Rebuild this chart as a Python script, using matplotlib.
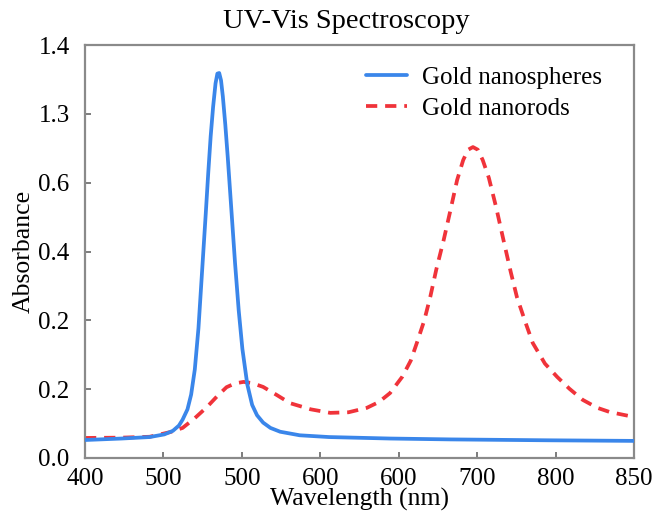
import matplotlib
matplotlib.use("Agg")
import matplotlib.pyplot as plt

# ---- data ----
sphere_wl = [400, 430, 453, 465, 472, 477, 480, 484, 487, 490, 493, 495, 497, 499,
             501, 503, 505, 507, 508.5, 510, 511.5, 513, 515, 517, 519, 521, 523,
             526, 529, 533, 537, 541, 546, 552, 560, 576, 600, 650, 700, 780, 850]
sphere_abs = [0.061, 0.066, 0.071, 0.080, 0.092, 0.110, 0.130, 0.165, 0.215, 0.300,
              0.440, 0.570, 0.700, 0.830, 0.965, 1.090, 1.190, 1.270, 1.303, 1.305,
              1.280, 1.225, 1.130, 1.020, 0.900, 0.780, 0.660, 0.500, 0.370, 0.250,
              0.180, 0.145, 0.120, 0.102, 0.089, 0.077, 0.071, 0.066, 0.063, 0.060,
              0.058]

rod_wl = [400, 430, 453, 470, 480, 490, 500, 508, 516, 523, 530, 537, 546, 557,
          568, 585, 601, 616, 631, 641, 650, 660, 667, 672, 678, 683, 688, 694,
          699, 705, 710, 714, 718, 722, 726, 731, 737, 743, 749, 754, 761, 767,
          777, 787, 797, 808, 820, 830, 850]
rod_abs = [0.068, 0.069, 0.072, 0.088, 0.102, 0.135, 0.173, 0.208, 0.240, 0.253,
           0.258, 0.254, 0.241, 0.214, 0.186, 0.165, 0.153, 0.155, 0.170, 0.190,
           0.220, 0.275, 0.330, 0.390, 0.465, 0.546, 0.640, 0.739, 0.830, 0.942,
           1.010, 1.045, 1.054, 1.045, 1.010, 0.950, 0.850, 0.739, 0.630, 0.546,
           0.460, 0.390, 0.320, 0.275, 0.235, 0.197, 0.170, 0.156, 0.139]

x_tick_labels = ["400", "500", "500", "600", "600", "700", "800", "850"]
y_tick_labels = ["0.0", "0.2", "0.2", "0.4", "0.6", "1.3", "1.4"]

title = "UV-Vis Spectroscopy"
xlabel = "Wavelength (nm)"
ylabel = "Absorbance"
series_names = ["Gold nanospheres", "Gold nanorods"]

# ---- figure ----
plt.rcParams["font.family"] = ["Liberation Serif", "DejaVu Serif"]
fig = plt.figure(figsize=(6.54, 5.14), dpi=100)
ax = fig.add_axes([85/654, 56/514, 549/654, 413/514])

ax.plot(sphere_wl, sphere_abs, color="#3a86ea", lw=2.7, solid_capstyle="round",
        solid_joinstyle="round", label=series_names[0], zorder=3)
ax.plot(rod_wl, rod_abs, color="#f0333a", lw=2.7, ls=(0, (3.0, 2.1)),
        label=series_names[1], zorder=2)

ax.set_xlim(400, 850)
ax.set_ylim(0, 1.4)
n_x = len(x_tick_labels)
n_y = len(y_tick_labels)
ax.set_xticks([400 + i * 450 / (n_x - 1) for i in range(n_x)])
ax.set_xticklabels(x_tick_labels)
ax.set_yticks([i * 1.4 / (n_y - 1) for i in range(n_y)])
ax.set_yticklabels(y_tick_labels)

ax.tick_params(axis="both", direction="in", length=4, width=1.2, color="#666666",
               labelsize=18, labelcolor="black")
ax.tick_params(axis="x", pad=7)
ax.tick_params(axis="y", pad=11)
for s in ax.spines.values():
    s.set_color("#8a8a8a")
    s.set_linewidth(1.6)

ax.set_xlabel(xlabel, fontsize=18.5, labelpad=-1)
ax.set_ylabel(ylabel, fontsize=18.5, labelpad=3)
fig.text(346/654, 1 - 22/514, title, ha="center", va="center", fontsize=20.5)

leg = ax.legend(loc="upper left", bbox_to_anchor=(0.512, 0.948), frameon=False,
                fontsize=18, handlelength=1.65, handletextpad=0.6,
                labelspacing=0.35, borderaxespad=0, borderpad=0)

fig.savefig("out.png", dpi=100, facecolor="white")
